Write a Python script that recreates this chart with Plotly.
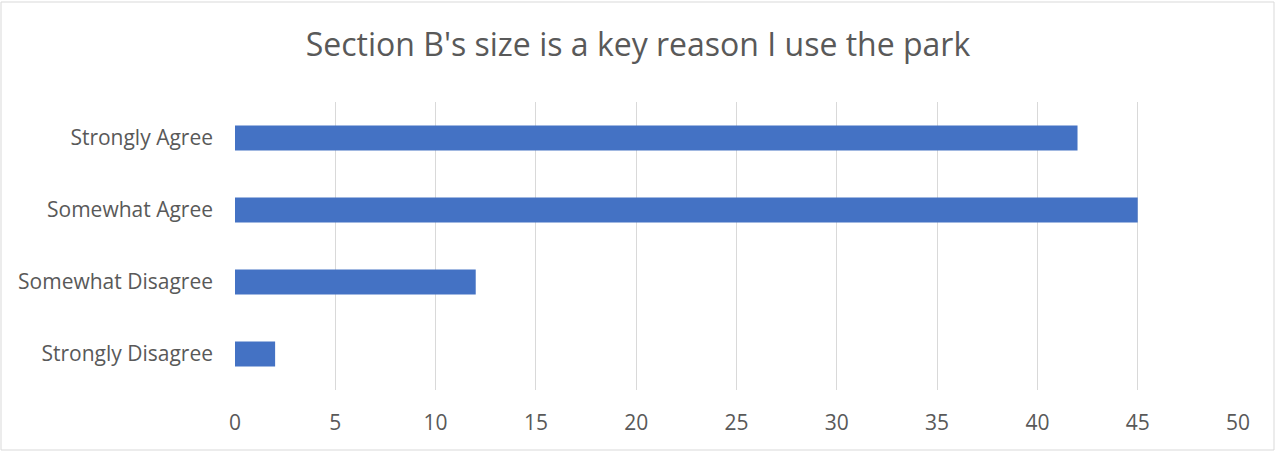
import plotly.graph_objects as go

categories = ["Strongly Disagree", "Somewhat Disagree", "Somewhat Agree", "Strongly Agree"]
values = [2, 12, 45, 42]
tick_vals = [0, 5, 10, 15, 20, 25, 30, 35, 40, 45, 50]
title_text = "Section B's size is a key reason I use the park"

W, H = 1276, 452
ml, mr, mt, mb = 235, 38, 102, 62
pw, ph = W - ml - mr, H - mt - mb

fig = go.Figure(go.Bar(
    x=values, y=categories, orientation="h",
    marker=dict(color="#4472C4", line=dict(width=0)),
    hoverinfo="x+y",
))

font = "Open Sans, Segoe UI, sans-serif"
fig.update_layout(
    width=W, height=H,
    margin=dict(l=ml, r=mr, t=mt, b=mb),
    paper_bgcolor="white", plot_bgcolor="white",
    bargap=0.65,
    showlegend=False,
    title=dict(text=title_text, x=0.5, xref="container", xanchor="center",
               y=(H - 45) / H, yanchor="middle",
               font=dict(family=font, size=32, color="#595959")),
    xaxis=dict(range=[0, 50], tickvals=tick_vals, showgrid=True,
               gridcolor="#D9D9D9", gridwidth=1, zeroline=False,
               showline=False, ticks="", ticklabelstandoff=18,
               tickfont=dict(family=font, size=21, color="#595959")),
    yaxis=dict(categoryorder="array", categoryarray=categories,
               showgrid=False, zeroline=False, showline=False, ticks="",
               ticklabelstandoff=21,
               tickfont=dict(family=font, size=21, color="#595959")),
    shapes=[dict(type="rect", xref="paper", yref="paper",
                 x0=(1 - ml) / pw, x1=(W - 2 - ml) / pw,
                 y0=(ph - (H - 2 - mt)) / ph, y1=(ph - (2 - mt)) / ph,
                 line=dict(color="#D9D9D9", width=1), layer="below")],
)

fig.write_html("out.html", config={"displayModeBar": False},
               post_script="document.body.style.margin='0';document.body.style.overflow='hidden';")
